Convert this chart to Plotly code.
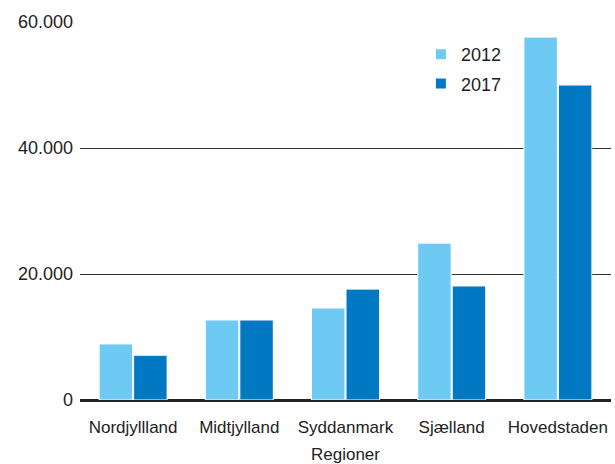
import plotly.graph_objects as go

# Regions and values per year
regioner = ["Nordjyllland", "Midtjylland", "Syddanmark", "Sjælland", "Hovedstaden"]
vaerdier_2012 = [8900, 12700, 14600, 24900, 57600]
vaerdier_2017 = [7100, 12700, 17600, 18100, 50000]
y_ticks = [0, 20000, 40000, 60000]

FONT = "Liberation Sans, Arial, sans-serif"
TXT = "#222222"

fig = go.Figure()
fig.add_trace(go.Bar(
    x=regioner, y=vaerdier_2012, name="2012", legendgroup="2012",
    marker=dict(color="#6ECAF3", line=dict(color="white", width=1)),
))
fig.add_trace(go.Bar(
    x=regioner, y=vaerdier_2017, name="2017", legendgroup="2017",
    marker=dict(color="#0079C2", line=dict(color="white", width=1)),
))

fig.update_layout(
    width=615, height=464,
    margin=dict(l=80, r=4, t=22, b=64),
    plot_bgcolor="white", paper_bgcolor="white",
    separators=",.",
    barmode="group", bargap=0.35, bargroupgap=0.03,
    font=dict(family=FONT, size=18, color=TXT),
    legend=dict(
        x=0.642, y=0.963, xanchor="left", yanchor="top",
        bgcolor="rgba(0,0,0,0)", font=dict(size=18, color=TXT),
        itemsizing="constant", tracegroupgap=3,
    ),
    xaxis=dict(
        title=dict(text="Regioner", font=dict(size=17, color=TXT), standoff=12),
        tickfont=dict(size=17, color=TXT), showgrid=False, ticks="",
        showline=False, ticklabelstandoff=15, automargin=False,
    ),
    yaxis=dict(
        range=[0, 60000], tickvals=y_ticks, tickformat=",d",
        tickfont=dict(size=18, color=TXT),
        showgrid=True, gridcolor="#333333", gridwidth=1,
        zeroline=True, zerolinecolor="#222222", zerolinewidth=3,
        ticks="", showline=False, ticklabelstandoff=6,
    ),
)

fig.write_html("out.html")
